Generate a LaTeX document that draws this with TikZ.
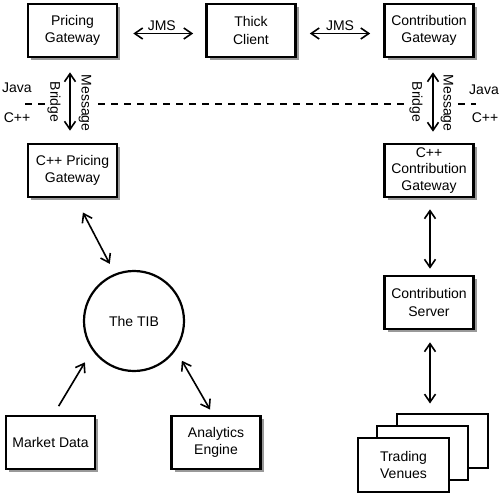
\documentclass[tikz,border=0pt]{standalone}
\usepackage{fontspec}
\setmainfont{Liberation Sans}
\usetikzlibrary{arrows.meta,shapes,positioning,shadows}
\tikzset{
box/.style= {rectangle, draw, line width=2.6pt, fill=white, align=center, minimum width=89pt, minimum height=53pt, inner sep=1pt, drop shadow={shadow xshift=3pt, shadow yshift=-3pt, fill=black!40, opacity=1}},
venue/.style= {rectangle, draw, line width=2pt, fill=white, align=center, minimum width=91pt, minimum height=54pt},
hub/.style= {circle, draw, line width=2.2pt, minimum size=100pt},
side/.style= {inner sep=0pt},
bridge/.style= {inner sep=0pt, rotate=-90},
link/.style= {<->, line width=1.6pt},
border/.style= {dashed, line width=1.3pt, dash pattern=on 7pt off 6pt}
}

\begin{document}
\begin{tikzpicture}[x=1pt, y=-1pt, >={Straight Barb[length=8pt,width=11pt]}, font=\fontsize{14}{17.5}\selectfont]
\useasboundingbox (0,0) rectangle (500,495);

% top row (Java)
\node[box] (pg) at (72.5,30.5) {Pricing\\Gateway};
\node[box] (tc) at (251,30.5) {Thick\\Client};
\node[box] (cg) at (429,30.5) {Contribution\\Gateway};

% C++ side
\node[box] (cpg) at (72.5,170.5) {C++ Pricing\\Gateway};
\node[box, font=\fontsize{14}{16.5}\selectfont] (ccg) at (429,170.5) {C++\\Contribution\\Gateway};
\node[box] (cs) at (429,302.5) {Contribution\\Server};

\node[hub] (tib) at (134,321) {The TIB};
\node[box] (md) at (50.5,442.5) {Market Data};
\node[box] (ae) at (216,442.5) {Analytics\\Engine};

% stacked venues
\node[venue] (tv3) at (442.5,440.5) {};
\node[venue] (tv2) at (422.5,452.5) {};
\node[venue] (tv1) at (403.5,465) {Trading\\Venues};

% Java / C++ boundary
\node[side] (jl) at (17,88) {Java};
\node[side] (cl) at (17,118) {C++};
\node[side] (jr) at (484,90) {Java};
\node[side] (cr) at (485,118) {C++};

\node[bridge] (bl) at (54,102) {Bridge};
\node[bridge] (ml) at (85,103) {Message};
\node[bridge] (br) at (416,102) {Bridge};
\node[bridge] (mr) at (447,103) {Message};

\coordinate (d1) at (25,104);
\coordinate (d2) at (47,104);
\coordinate (d3) at (98,104);
\coordinate (d4) at (404,104);
\coordinate (d5) at (458,104);
\coordinate (d6) at (476,104);
\draw[border] (d1) -- (d2);
\draw[border] (d3) -- (d4);
\draw[border] (d5) -- (d6);

% connectors
\draw[link, shorten <=15pt, shorten >=12pt] ([yshift=-3pt]pg.east) -- node[above=-1.5pt]{JMS} ([yshift=-3pt]tc.west);
\draw[link, shorten <=13pt, shorten >=13pt] ([yshift=-3pt]tc.east) -- node[above=-1.5pt]{JMS} ([yshift=-3pt]cg.west);
\draw[link, shorten <=14pt, shorten >=12pt] ([xshift=-2.5pt]pg.south) -- ([xshift=-2.5pt]cpg.north);
\draw[link, shorten <=14pt, shorten >=11pt] ([xshift=4pt]cg.south) -- ([xshift=4pt]ccg.north);
\draw[link, shorten <=11pt, shorten >=6pt] ([xshift=1pt]ccg.south) -- ([xshift=1pt]cs.north);
\draw[link, shorten <=12pt, shorten >=9pt] ([xshift=1pt]cs.south) -- ([xshift=1pt]cs.south |- tv3.north);
\draw[link, shorten <=16pt, shorten >=11pt] ([xshift=3pt]cpg.south) -- (tib.112);
\draw[->, line width=1.6pt, shorten <=10pt, shorten >=14pt] ([xshift=3pt]md.north) -- (tib.215);
\draw[link, shorten <=12pt, shorten >=6pt] (tib.-35) -- ([xshift=-3pt]ae.north);
\end{tikzpicture}
\end{document}
